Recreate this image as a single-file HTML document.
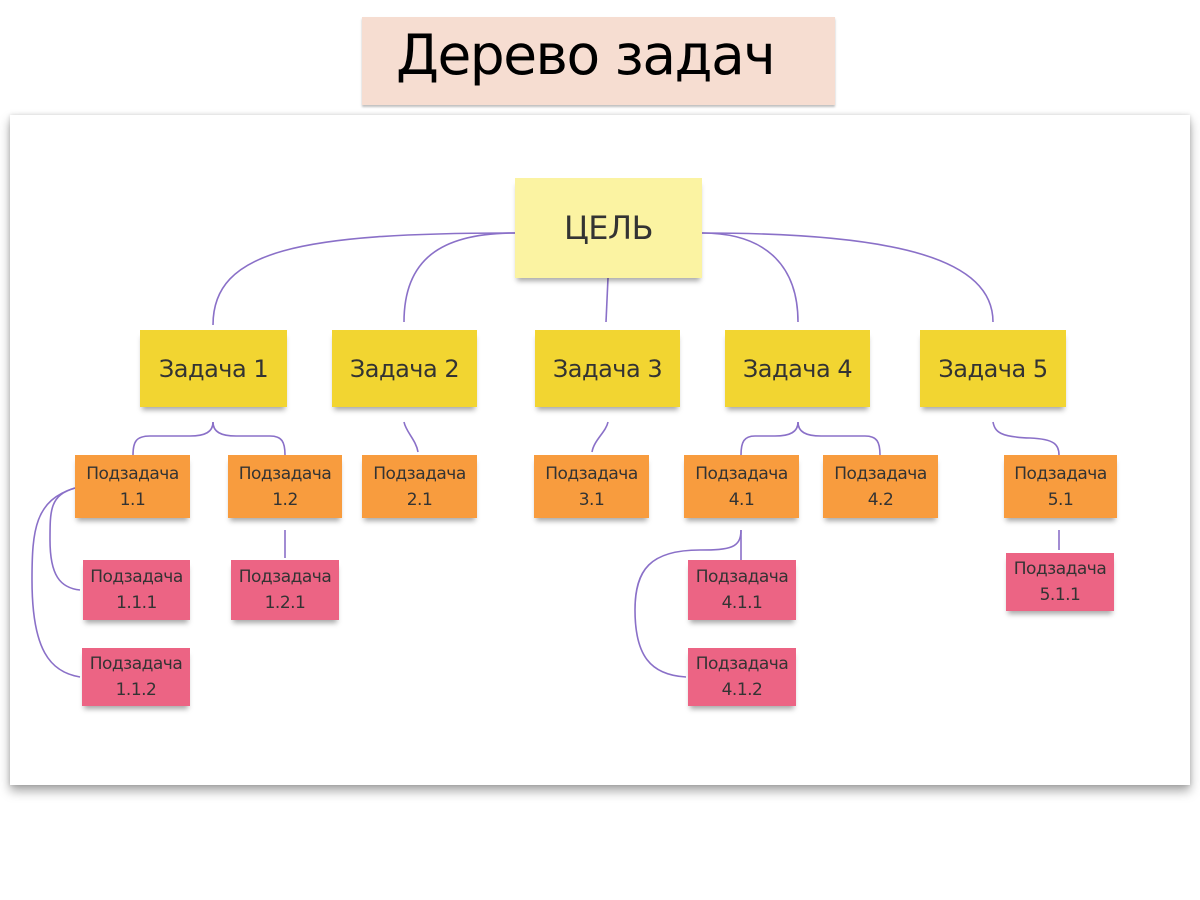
<!DOCTYPE html>
<html><head><meta charset="utf-8"><style>
body{margin:0;width:1200px;height:900px;background:#fff;position:relative;overflow:hidden;font-family:"Liberation Sans","DejaVu Sans",sans-serif}
.banner{position:absolute;left:362px;top:17px;width:473px;height:88px;background:#f6ddd1;box-shadow:0 2px 2px rgba(0,0,0,.25)}
.banner span{position:absolute;left:34px;top:6px;font-size:55px;color:#000;font-family:"DejaVu Sans","Liberation Sans",sans-serif;letter-spacing:-1.5px}
.card{position:absolute;left:10px;top:115px;width:1180px;height:670px;background:#fff;box-shadow:0 6px 10px rgba(0,0,0,.35),0 0 4px rgba(0,0,0,.15)}
.n{position:absolute;display:flex;align-items:center;justify-content:center;text-align:center;color:#333;box-shadow:0 5px 5px -2px rgba(0,0,0,.35);font-family:"DejaVu Sans","Liberation Sans",sans-serif;letter-spacing:-0.5px}
.g{background:#fbf3a2;font-size:32px}
.y{background:#f2d531;font-size:24px}
.o{background:#f89c3e;font-size:17px;line-height:26px}
.p{background:#ec6484;font-size:17px;line-height:26px}
svg{position:absolute;left:0;top:0}
</style></head><body>
<div class="banner"><span>Дерево задач</span></div>
<div class="card"></div>
<svg width="1200" height="900"><g fill="none" stroke="#8a70c8" stroke-width="1.6">
<path d="M515,233 C300,233 213,250 213,325"/>
<path d="M515,233 C440,233 404,260 404,322"/>
<path d="M608,278 L606,322"/>
<path d="M702,233 C770,233 798,270 798,322"/>
<path d="M702,233 C900,233 993,260 993,322"/>
<path d="M213,422 C213,432 205,436 190,436 L150,436 C136,436 133,442 133,455"/>
<path d="M213,422 C213,432 221,436 236,436 L270,436 C282,436 285,442 285,455"/>
<path d="M404,422 C406,432 416,440 418,452"/>
<path d="M608,422 C606,432 594,440 592,452"/>
<path d="M798,422 C798,432 790,436 775,436 L755,436 C744,436 741,442 741,455"/>
<path d="M798,422 C798,432 806,436 821,436 L865,436 C877,436 880,442 880,455"/>
<path d="M993,422 C995,432 1000,437 1030,438 C1055,439 1059,445 1059,455"/>
<path d="M75,488 C50,495 50,510 50,540 C50,575 60,588 80,590"/>
<path d="M75,488 C35,500 32,530 32,580 C32,650 50,672 80,677"/>
<path d="M285,530 L285,558"/>
<path d="M741,530 L741,560"/>
<path d="M741,530 C741,548 730,550 700,550 C650,550 635,570 635,610 C635,655 650,675 686,677"/>
<path d="M1059,530 L1059,550"/>
</g></svg>
<div class="n g" style="left:515px;top:178px;width:187px;height:100px">ЦЕЛЬ</div>
<div class="n y" style="left:140px;top:330px;width:147px;height:77px">Задача 1</div>
<div class="n y" style="left:332px;top:330px;width:145px;height:77px">Задача 2</div>
<div class="n y" style="left:535px;top:330px;width:145px;height:77px">Задача 3</div>
<div class="n y" style="left:725px;top:330px;width:145px;height:77px">Задача 4</div>
<div class="n y" style="left:920px;top:330px;width:146px;height:77px">Задача 5</div>
<div class="n o" style="left:75px;top:455px;width:115px;height:63px">Подзадача<br>1.1</div>
<div class="n o" style="left:228px;top:455px;width:114px;height:63px">Подзадача<br>1.2</div>
<div class="n o" style="left:362px;top:455px;width:115px;height:63px">Подзадача<br>2.1</div>
<div class="n o" style="left:534px;top:455px;width:115px;height:63px">Подзадача<br>3.1</div>
<div class="n o" style="left:684px;top:455px;width:115px;height:63px">Подзадача<br>4.1</div>
<div class="n o" style="left:823px;top:455px;width:115px;height:63px">Подзадача<br>4.2</div>
<div class="n o" style="left:1004px;top:455px;width:113px;height:63px">Подзадача<br>5.1</div>
<div class="n p" style="left:83px;top:560px;width:107px;height:60px">Подзадача<br>1.1.1</div>
<div class="n p" style="left:231px;top:560px;width:108px;height:60px">Подзадача<br>1.2.1</div>
<div class="n p" style="left:82px;top:648px;width:108px;height:58px">Подзадача<br>1.1.2</div>
<div class="n p" style="left:688px;top:560px;width:108px;height:60px">Подзадача<br>4.1.1</div>
<div class="n p" style="left:688px;top:648px;width:108px;height:58px">Подзадача<br>4.1.2</div>
<div class="n p" style="left:1006px;top:553px;width:108px;height:58px">Подзадача<br>5.1.1</div>
</body></html>
